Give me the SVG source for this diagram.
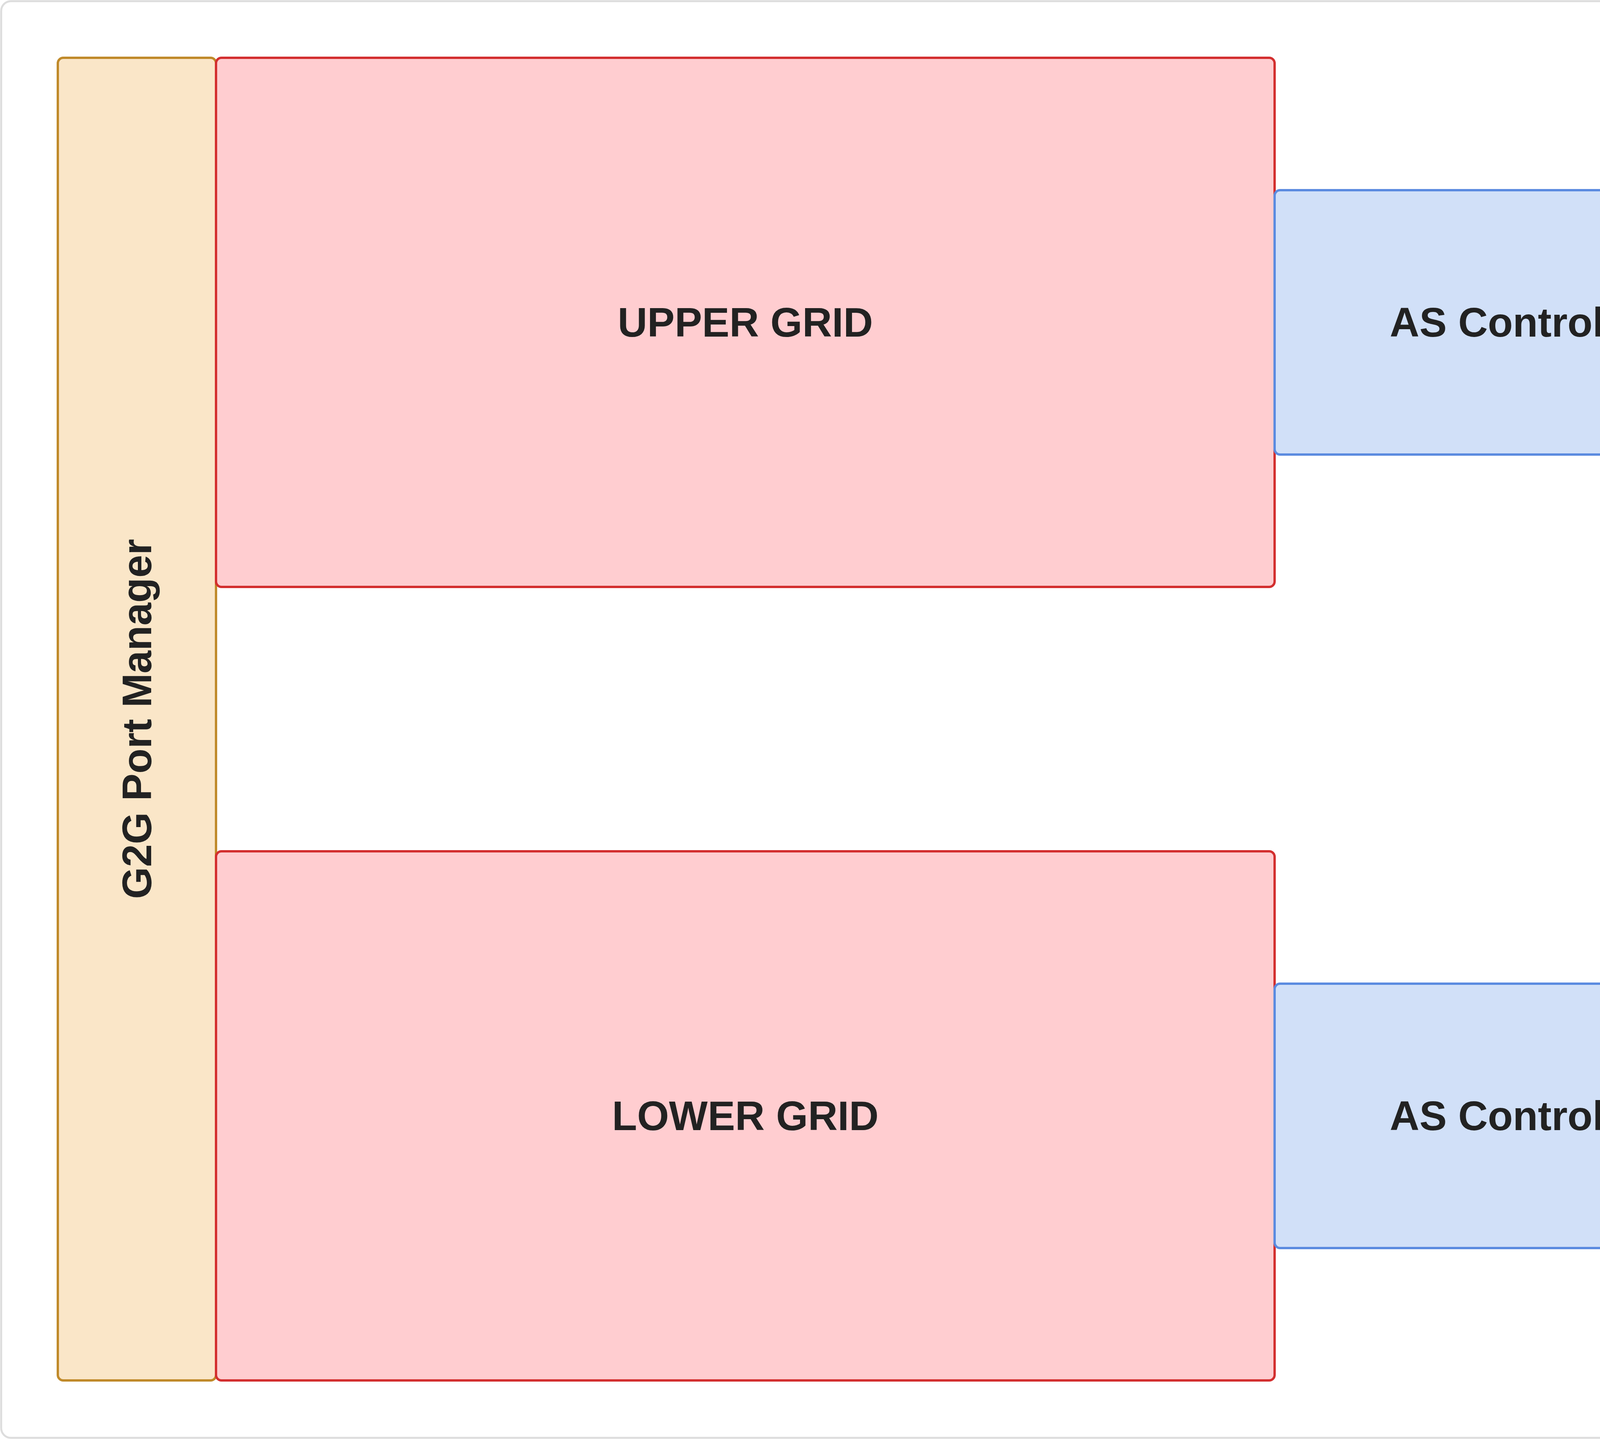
<svg xmlns="http://www.w3.org/2000/svg" width="7479" height="3685" viewBox="0 0 7479 3685">
<style>
.red{fill:#ffcdd0;stroke:#d32f2f;stroke-width:6}
.blue{fill:#d1e0f8;stroke:#5b8be0;stroke-width:6}
.org{fill:#fae6c8;stroke:#c08a2a;stroke-width:6}
.t{font-family:"Liberation Sans",Arial,sans-serif;font-weight:bold;font-size:105px;fill:#222;text-anchor:middle;dominant-baseline:central}
.l{font-family:"Open Sans","Liberation Sans",sans-serif;font-size:62px;fill:#333;text-anchor:middle;dominant-baseline:central}
.e{fill:none;stroke:#333;stroke-width:7}
</style>
<defs><marker id="a" viewBox="0 0 10 10" refX="9" refY="5" markerWidth="6" markerHeight="6" orient="auto" markerUnits="userSpaceOnUse" style="overflow:visible"><path d="M0 0L10 5L0 10L3 5Z" fill="#333" transform="scale(6)"/></marker></defs>
<rect x="3" y="3" width="7473" height="3679" rx="25" fill="#fff" stroke="#ddd" stroke-width="5"/>
<g id="g2g"><rect class="org" x="148" y="148" width="405" height="3387" rx="14"/><text class="t" transform="translate(350 1841) rotate(-90)">G2G Port Manager</text></g>
<g id="upper"><rect class="red" x="553" y="148" width="2710" height="1355" rx="14"/><text class="t" x="1908" y="825">UPPER GRID</text></g>
<g id="lower"><rect class="red" x="553" y="2180" width="2710" height="1355" rx="14"/><text class="t" x="1908" y="2857">LOWER GRID</text></g>
<g id="as1"><rect class="blue" x="3263" y="487" width="1354" height="677" rx="14"/><text class="t" x="3940" y="825">AS Controller 1</text></g>
<g id="as2"><rect class="blue" x="3263" y="2519" width="1354" height="677" rx="14"/><text class="t" x="3940" y="2857">AS Controller 2</text></g>
<g id="wms"><rect class="blue" x="5972" y="1503" width="1355" height="677" rx="14"/><text class="t" x="6650" y="1841">WMS</text></g>
<g id="edges">
<path class="e" d="M4617 825 C4900 825 5100 810 5442 806 C6300 800 6650 1050 6650 1503" marker-end="url(#a)"/>
<path class="e" d="M4617 2857 C4900 2857 5150 2870 5471 2881 C6350 2890 6650 2650 6650 2180" marker-end="url(#a)"/>
<rect x="5150" y="766" width="584" height="80" fill="#fff"/>
<text class="l" x="5442" y="806">LOG PUBLISHER 1</text>
<rect x="5179" y="2841" width="584" height="80" fill="#fff"/>
<text class="l" x="5471" y="2881">LOG PUBLISHER 2</text>
</g>
</svg>
